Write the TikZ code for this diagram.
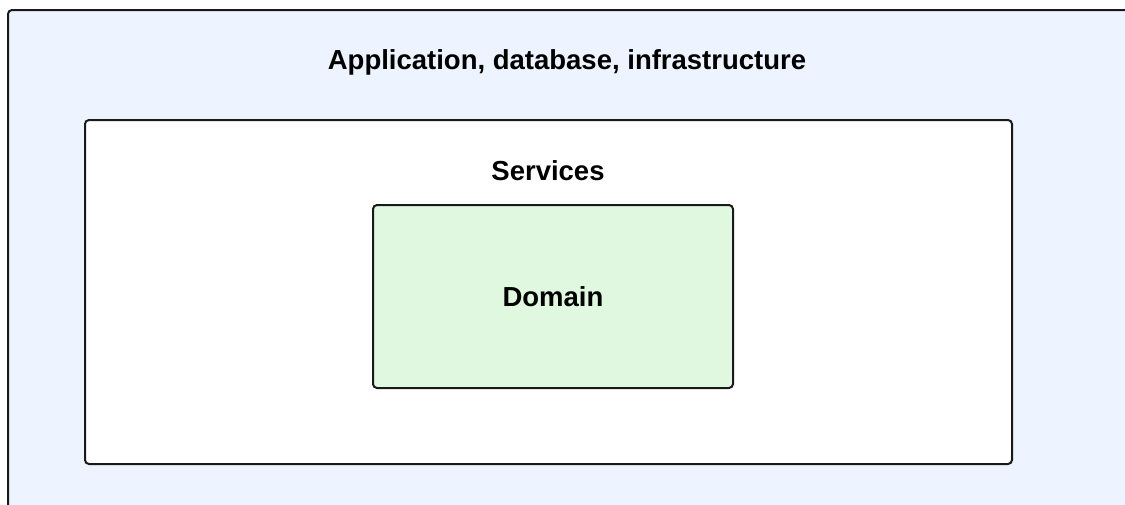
\documentclass[tikz,border=0pt]{standalone}
\usepackage{fontspec}
\setmainfont{Liberation Sans}
\begin{document}
\begin{tikzpicture}[x=1pt,y=-1pt,
  layer/.style={draw=black!90, line width=2pt, rounded corners=4pt},
  title/.style={font=\bfseries\fontsize{27.5}{33}\selectfont, text=black}]
\definecolor{infrafill}{HTML}{EDF4FF}
\definecolor{domainfill}{HTML}{E0F8E0}
\useasboundingbox (0,0) rectangle (1125,504);
\clip (0,0) rectangle (1125,504);
% outer layer runs off the page on the right and bottom
\draw[layer, fill=infrafill] (8,10) rectangle (1140,520);
\node[title] (infra) at (567,62) {Application, database, infrastructure};
% services layer
\draw[layer, fill=white] (85,120) rectangle (1012,464);
\node[title] (services) at (548,171) {Services};
% domain core
\draw[layer, fill=domainfill] (373,205) rectangle (733,388);
\node[title] (domain) at (553,297) {Domain};
\end{tikzpicture}
\end{document}
